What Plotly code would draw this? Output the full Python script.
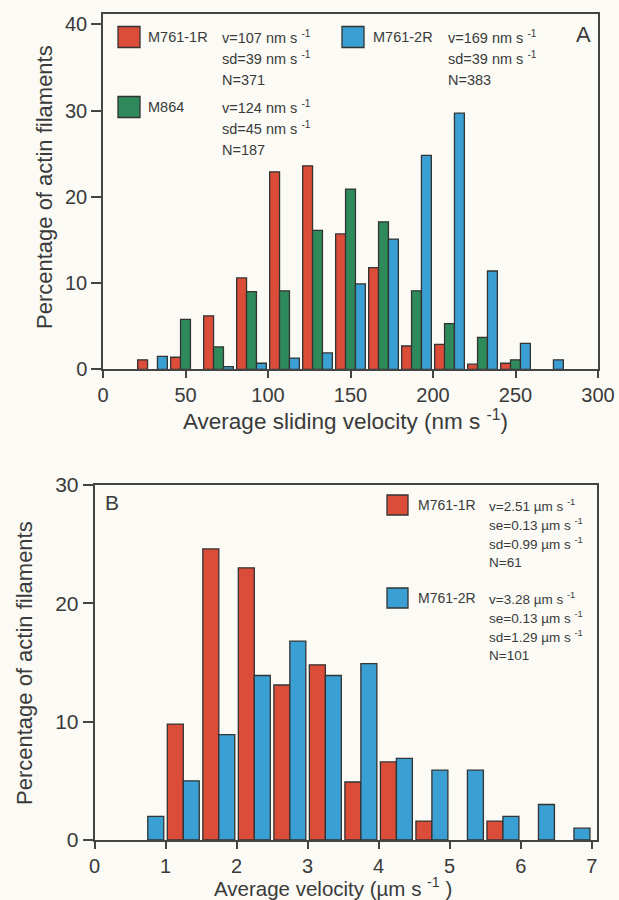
import plotly.graph_objects as go

# ---------------- data ----------------
# Panel A: bins of average sliding velocity (nm/s), bin centres (None = no bar)
a_bins = [30, 50, 70, 90, 110, 130, 150, 170, 190, 210, 230, 250, 270]
a_m761_1r = [1.1, 1.4, 6.2, 10.6, 22.9, 23.6, 15.7, 11.8, 2.7, 2.9, 0.6, 0.7, None]
a_m864 = [None, 5.8, 2.6, 9.0, 9.1, 16.1, 20.9, 17.1, 9.1, 5.3, 3.7, 1.1, None]
a_m761_2r = [1.5, None, 0.3, 0.7, 1.3, 1.9, 9.9, 15.1, 24.8, 29.7, 11.4, 3.0, 1.1]

# Panel B: bins of average velocity (um/s), bin centres (None = no bar)
b_bins = [0.75, 1.25, 1.75, 2.25, 2.75, 3.25, 3.75, 4.25, 4.75, 5.25, 5.75, 6.25, 6.75]
b_m761_1r = [None, 9.8, 24.6, 23.0, 13.1, 14.8, 4.9, 6.6, 1.6, None, 1.6, None, None]
b_m761_2r = [2.0, 5.0, 8.9, 13.9, 16.8, 13.9, 14.9, 6.9, 5.9, 5.9, 2.0, 3.0, 1.0]

a_names = ["M761-1R", "M864", "M761-2R"]
a_stats = [
    ["v=107 nm s <sup>-1</sup>", "sd=39 nm s <sup>-1</sup>", "N=371"],
    ["v=124 nm s <sup>-1</sup>", "sd=45 nm s <sup>-1</sup>", "N=187"],
    ["v=169 nm s <sup>-1</sup>", "sd=39 nm s <sup>-1</sup>", "N=383"],
]
b_names = ["M761-1R", "M761-2R"]
b_stats = [
    ["v=2.51 µm s <sup>-1</sup>", "se=0.13 µm s <sup>-1</sup>", "sd=0.99 µm s <sup>-1</sup>", "N=61"],
    ["v=3.28 µm s <sup>-1</sup>", "se=0.13 µm s <sup>-1</sup>", "sd=1.29 µm s <sup>-1</sup>", "N=101"],
]
a_xticks = [0, 50, 100, 150, 200, 250, 300]
a_yticks = [0, 10, 20, 30, 40]
b_xticks = [0, 1, 2, 3, 4, 5, 6, 7]
b_yticks = [0, 10, 20, 30]

# ---------------- style ----------------
W, H = 619, 900
RED = "#db4d38"
GREEN = "#2f8a5b"
BLUE = "#3a9fd2"
INK = "#3a3a3a"
BG = "#fbfaf5"
FONT = "Liberation Sans, Arial, sans-serif"


def px(x):
    return x / W


def py(y):
    return 1 - y / H


fig = go.Figure()
bar_line = dict(color="#333333", width=1.3)
for vals, col in zip([a_m761_1r, a_m864, a_m761_2r], [RED, GREEN, BLUE]):
    fig.add_trace(go.Bar(x=a_bins, y=vals, marker=dict(color=col, line=bar_line),
                         xaxis="x", yaxis="y", showlegend=False))
for vals, col in zip([b_m761_1r, b_m761_2r], [RED, BLUE]):
    fig.add_trace(go.Bar(x=b_bins, y=vals, marker=dict(color=col, line=bar_line),
                         xaxis="x2", yaxis="y2", showlegend=False))

axis_common = dict(showline=True, mirror=True, linecolor="#444444", linewidth=1.5,
                   ticks="outside", tickwidth=1.5, tickcolor="#444444",
                   showgrid=False, zeroline=False, fixedrange=True, automargin=False,
                   tickfont=dict(family=FONT, size=20, color=INK))

fig.update_layout(
    template="none",
    width=W, height=H, autosize=False,
    margin=dict(l=0, r=0, t=0, b=0, pad=0),
    paper_bgcolor=BG, plot_bgcolor=BG,
    barmode="group", bargap=0.1, bargroupgap=0,
    font=dict(family=FONT, color=INK),
    xaxis=dict(axis_common, domain=[px(103), px(598)], range=[0, 300],
               tickvals=a_xticks, ticklen=7, anchor="y"),
    yaxis=dict(axis_common, domain=[py(369.3), py(14)], range=[0, 41.2],
               tickvals=a_yticks, ticklen=10, anchor="x"),
    xaxis2=dict(axis_common, domain=[px(94.5), px(596.7)], range=[0, 7.07],
                tickvals=b_xticks, ticklen=7, anchor="y2"),
    yaxis2=dict(axis_common, domain=[py(840), py(485)], range=[0, 30],
                tickvals=b_yticks, ticklen=10, anchor="x2",
                tickfont=dict(family=FONT, size=21, color=INK)),
)

annotations = []
shapes = []


def text(x, y, s, size, xanchor="left", angle=0):
    annotations.append(dict(x=px(x), y=py(y), xref="paper", yref="paper", text=s,
                            showarrow=False, xanchor=xanchor, yanchor="middle",
                            textangle=angle,
                            font=dict(family=FONT, size=size, color=INK)))


def square(x0, y0, x1, y1, col):
    shapes.append(dict(type="rect", xref="paper", yref="paper",
                       x0=px(x0), x1=px(x1), y0=py(y1), y1=py(y0),
                       fillcolor=col, line=dict(color="#333333", width=1.3)))


# Panel A legend
a_layout = [  # (square x, name x, stats x, first line y)
    (118, 146, 220, 37, RED),
    (118, 146, 220, 107, GREEN),
    (342, 371, 446, 37, BLUE),
]
for name, stats, (sx, nx, tx, y0, col) in zip(a_names, a_stats, a_layout):
    square(sx, y0 - 10.5, sx + 22, y0 + 10.5, col)
    text(nx, y0, name, 14.5)
    for i, s in enumerate(stats):
        text(tx, y0 + i * 21.3, s, 14.5)
text(583, 35, "A", 22, xanchor="center")

# Panel B legend
b_layout = [
    (387, 416, 487, 505, RED),
    (387, 416, 487, 598, BLUE),
]
for name, stats, (sx, nx, tx, y0, col) in zip(b_names, b_stats, b_layout):
    square(sx, y0 - 10, sx + 21, y0 + 10, col)
    text(nx, y0, name, 14)
    for i, s in enumerate(stats):
        text(tx, y0 + i * 19, s, 13.5)
text(112, 502, "B", 21, xanchor="center")

# Axis titles
text(345, 420, "Average sliding velocity (nm s <sup>-1</sup>)", 22.5, xanchor="center")
text(44, 187, "Percentage of actin filaments", 22, xanchor="center", angle=-90)
text(333, 887, "Average velocity (µm s <sup>-1</sup> )", 20.5, xanchor="center")
text(24, 663, "Percentage of actin filaments", 22, xanchor="center", angle=-90)

fig.update_layout(annotations=annotations, shapes=shapes)
fig.write_html(
    "out.html",
    config={"responsive": False, "displayModeBar": False},
    post_script="document.body.style.margin='0px';document.body.style.overflow='hidden';",
)
